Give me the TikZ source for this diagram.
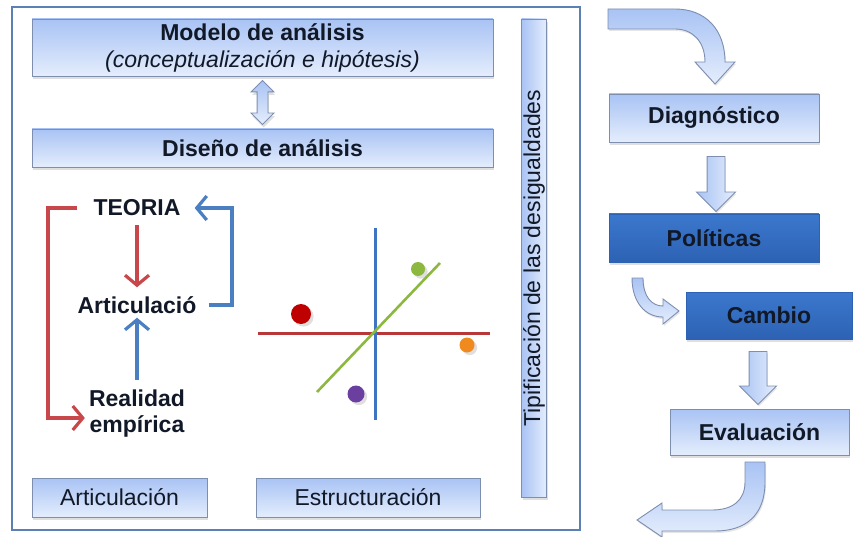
\documentclass[tikz,border=0pt]{standalone}
\usepackage{fontspec}
\setmainfont{Liberation Sans}
\usetikzlibrary{shapes.arrows,shadows,calc,arrows.meta}
\definecolor{boxtop}{HTML}{A9C3F4}
\definecolor{boxbot}{HTML}{E4EDFC}
\definecolor{boxline}{HTML}{7D8EAF}
\definecolor{darktop}{HTML}{3B78CE}
\definecolor{darkbot}{HTML}{2D62B3}
\definecolor{framecol}{HTML}{5D80B4}
\definecolor{textdark}{HTML}{111827}
\definecolor{redarrow}{HTML}{C8474B}
\definecolor{bluearrow}{HTML}{4A7FC1}
\definecolor{axisblue}{HTML}{3F74C0}
\definecolor{axisred}{HTML}{B8383A}
\definecolor{axisgreen}{HTML}{8DB840}
\definecolor{dotorange}{HTML}{F08A1E}
\definecolor{dotpurple}{HTML}{6A3FA0}
\tikzstyle{lightbox}=[draw=boxline, line width=0.9pt, top color=boxtop, bottom color=boxbot, inner sep=0pt, align=center, text=textdark, font=\bfseries\fontsize{23}{28}\selectfont, drop shadow={shadow xshift=1pt, shadow yshift=-3pt, opacity=0.25}]
\tikzstyle{darkbox}=[lightbox, top color=darktop, bottom color=darkbot, draw=darkbot]
\tikzstyle{word}=[inner sep=2pt, align=center, text=textdark, font=\bfseries\fontsize{23}{26}\selectfont]
\tikzstyle{blockarrow}=[single arrow, draw=boxline, line width=0.9pt, left color=boxtop, right color=boxbot, inner xsep=0pt, inner ysep=8.5pt, single arrow head extend=10.5pt, rotate=-90, drop shadow={shadow xshift=1pt, shadow yshift=-2pt, opacity=0.2}]
\tikzstyle{bendarrow}=[draw=boxline, line width=0.9pt, top color=boxtop, bottom color=boxbot, drop shadow={shadow xshift=1pt, shadow yshift=-2pt, opacity=0.2}]
\tikzstyle{linkarrow}=[line width=3.2pt, ->, >={Straight Barb[length=10pt,width=24pt]}]

\begin{document}
\begin{tikzpicture}[x=1pt,y=-1pt]
  \useasboundingbox (0,0) rectangle (853,537);
  % marco
  \draw [line width=2.4pt, framecol] (12,7) rectangle (580,530);

  % cajas de la izquierda
  \node [lightbox, minimum width=461, minimum height=57] (modelo) at (262.5,47.5)
    {Modelo de análisis\\[-1pt]{\mdseries\itshape (conceptualización e hipótesis)}};
  \node [lightbox, minimum width=461, minimum height=38] (diseno) at (262.5,148) {Diseño de análisis};
  \node [lightbox, double arrow, double arrow head extend=6pt, inner xsep=0pt, inner ysep=5pt, minimum height=44, rotate=90]
    (enlace) at ($(modelo.south)!0.5!(diseno.north)$) {};
  \node [lightbox, font=\fontsize{23}{26}\selectfont, minimum width=175, minimum height=39] (articbox) at (119.5,497.5) {Articulación};
  \node [lightbox, font=\fontsize{23}{26}\selectfont, minimum width=224, minimum height=39] (estruc) at (368,497.5) {Estructuración};
  \node [lightbox, font=\fontsize{23}{26}\selectfont, left color=boxtop, right color=boxbot, minimum width=478, minimum height=25, rotate=90] (tipif) at (534,258) {Tipificación de las desigualdades};

  % teoria / realidad
  \node [word] (teoria) at (137,208) {TEORIA};
  \node [word] (artic) at (137,305) {Articulació};
  \node [word] (realidad) at (137,414) {Realidad\\empírica};
  \coordinate (redcorner) at (48,418);
  \coordinate (bluecorner) at (232,208);
  \draw [linkarrow, redarrow, shorten <=7pt, shorten >=7pt] (teoria) -- (artic);
  \draw [linkarrow, bluearrow, shorten <=8pt, shorten >=2pt] (realidad.north) -- (artic.south);
  \draw [linkarrow, redarrow] ([xshift=-14pt]teoria.west) -| (redcorner) -- ([xshift=-2pt]realidad.west |- redcorner);
  \draw [linkarrow, bluearrow] ([xshift=10pt]artic.east) -| (bluecorner) -- ([xshift=12pt]teoria.east);

  % ejes y puntos
  \draw [line width=3pt, axisred] (258,333) -- (490,333);
  \draw [line width=3pt, axisblue] (375,228) -- (375,420);
  \draw [line width=2.6pt, axisgreen] (317,392) -- (440,263);
  \fill [red!75!black, drop shadow={opacity=0.25}] (301,314) circle (10);
  \fill [axisgreen, drop shadow={opacity=0.25}] (418,269) circle (7);
  \fill [dotorange, drop shadow={opacity=0.25}] (467,345) circle (7.5);
  \fill [dotpurple, drop shadow={opacity=0.25}] (356,394) circle (8.5);

  % cajas de la derecha
  \node [lightbox, minimum width=210, minimum height=48] (diag) at (714,118) {Diagnóstico};
  \node [darkbox, minimum width=210, minimum height=48] (polit) at (714,238) {Políticas};
  \node [darkbox, minimum width=166, minimum height=47] (cambio) at (769,315.5) {Cambio};
  \node [lightbox, minimum width=179, minimum height=46] (evalu) at (759.5,432) {Evaluación};
  \node [blockarrow, minimum height=55] (flecha1) at (716,179.5) {};
  \node [blockarrow, single arrow head extend=9.5pt, minimum height=53] (flecha2) at (758,373.5) {};

  % flechas curvas
  \path [bendarrow] (608,9) -- (675,9) .. controls (706,9) and (725,30) .. (725,62) -- (735,62) -- (715,84)
    -- (695,62) -- (705,62) .. controls (705,42) and (693,29) .. (675,29) -- (608,29) -- cycle;
  \path [bendarrow] (632,278) .. controls (632,302) and (645,317) .. (663,317) -- (663,324) -- (679,311)
    -- (663,299) -- (663,306) .. controls (652,306) and (643,297) .. (643,278) -- cycle;
  \path [bendarrow] (745,462) -- (765,462) -- (765,482) .. controls (765,516) and (745,531) .. (715,531)
    -- (662,531) -- (662,537) -- (637,520) -- (662,503) -- (662,510) -- (712,510)
    .. controls (733,510) and (745,500) .. (745,482) -- cycle;
\end{tikzpicture}
\end{document}
